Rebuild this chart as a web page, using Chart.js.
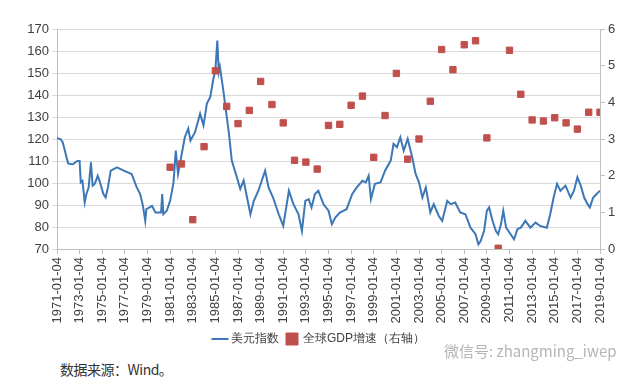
<!DOCTYPE html>
<html>
<head>
<meta charset="utf-8">
<script src="https://cdn.jsdelivr.net/npm/chart.js@4"></script>
<style>
  body { margin: 0; background: #fff; width: 640px; height: 385px; overflow: hidden; position: relative; }
  #wrap { position: absolute; left: 0; top: 0; width: 640px; height: 357px; }
  #source { position: absolute; left: 60px; top: 359px; font: 14px "Noto Sans CJK SC", sans-serif; color: #333; letter-spacing: -0.5px; }
  #mark { position: absolute; left: 444px; top: 340px; font: 15px "Noto Sans CJK SC", sans-serif; color: #b5b5b5; }
</style>
</head>
<body>
<div id="wrap"><canvas id="chart" width="640" height="357"></canvas></div>
<div id="source">数据来源：Wind。</div>
<div id="mark">微信号: zhangming_iwep</div>
<script>
// 美元指数
const dollarYears = [
  1971.0, 1971.3, 1971.5, 1971.7, 1971.9, 1972.0, 1972.4, 1972.8, 1973.0, 1973.1,
  1973.25, 1973.45, 1973.6, 1973.8, 1974.0, 1974.15, 1974.35, 1974.6, 1974.8, 1975.1,
  1975.3, 1975.5, 1975.75, 1976.3, 1976.9, 1977.6, 1978.05, 1978.35, 1978.6, 1978.8,
  1978.9, 1979.4, 1979.7, 1980.2, 1980.3, 1980.4, 1980.7, 1981.0, 1981.3, 1981.5,
  1981.7, 1982.0, 1982.3, 1982.6, 1982.8, 1983.2, 1983.65, 1983.95, 1984.25, 1984.55,
  1984.8, 1985.0, 1985.17, 1985.3, 1985.4, 1985.7, 1986.2, 1986.45, 1986.9, 1987.2,
  1987.5, 1987.8, 1988.1, 1988.4, 1988.8, 1989.4, 1989.7, 1990.1, 1990.6, 1991.0,
  1991.5, 1991.9, 1992.35, 1992.65, 1992.95, 1993.25, 1993.5, 1993.8, 1994.1, 1994.55,
  1995.0, 1995.3, 1995.6, 1996.0, 1996.6, 1997.1, 1997.5, 1998.0, 1998.3, 1998.55,
  1998.75, 1999.1, 1999.6, 2000.0, 2000.5, 2000.75, 2001.05, 2001.35, 2001.65, 2002.0,
  2002.4, 2002.7, 2003.0, 2003.3, 2003.6, 2004.0, 2004.3, 2004.75, 2005.05, 2005.5,
  2005.8, 2006.2, 2006.65, 2007.1, 2007.55, 2008.0, 2008.25, 2008.45, 2008.75, 2009.0,
  2009.2, 2009.5, 2009.8, 2010.0, 2010.25, 2010.45, 2010.7, 2011.1, 2011.4, 2011.7,
  2012.0, 2012.4, 2012.85, 2013.3, 2013.7, 2014.3, 2014.6, 2014.9, 2015.2, 2015.5,
  2015.95, 2016.4, 2016.7, 2017.0, 2017.3, 2017.6, 2017.9, 2018.1, 2018.4, 2018.7,
  2019.0
];
const dollarValues = [
  120.4, 120.0, 118.5, 114.7, 110.5, 108.8, 108.5, 110.0, 110.0, 100.3,
  101.0, 91.2, 95.0, 98.0, 109.4, 98.8, 99.7, 103.3, 100.3, 95.0,
  93.4, 98.0, 105.6, 107.1, 105.6, 104.1, 98.0, 95.0, 89.6, 82.8,
  88.1, 89.6, 86.6, 86.6, 95.0, 85.8, 87.4, 91.9, 100.3, 114.7,
  104.1, 112.5, 120.8, 124.7, 119.3, 123.1, 131.5, 126.2, 136.1, 139.1,
  146.7, 151.3, 164.7, 150.5, 152.8, 142.1, 122.4, 110.2, 102.6, 97.3,
  101.1, 93.4, 85.8, 91.9, 96.5, 105.6, 98.0, 93.4, 85.8, 80.5,
  96.5, 90.4, 85.8, 78.2, 91.9, 92.7, 88.9, 95.0, 96.5, 90.4,
  87.4, 81.3, 84.3, 86.6, 88.1, 95.0, 98.0, 101.0, 100.3, 103.3,
  92.7, 99.6, 100.3, 105.6, 110.2, 117.8, 116.3, 120.8, 114.7, 120.1,
  111.7, 104.1, 100.3, 93.4, 98.0, 86.6, 90.4, 85.0, 82.8, 91.9,
  90.4, 91.1, 86.6, 85.8, 79.7, 76.7, 72.1, 73.6, 78.2, 87.4,
  88.9, 82.8, 78.2, 76.7, 81.3, 87.4, 79.7, 76.7, 74.4, 79.0,
  79.7, 82.8, 79.7, 82.0, 80.5, 79.7, 85.8, 93.4, 99.6, 96.5,
  98.8, 93.4, 96.5, 102.6, 98.8, 93.4, 90.4, 88.9, 93.4, 95.0,
  96.5
];

// 全球GDP增速 (右轴)
const gdpYears = [
  1981, 1982, 1983, 1984, 1985, 1986, 1987, 1988, 1989, 1990,
  1991, 1992, 1993, 1994, 1995, 1996, 1997, 1998, 1999, 2000,
  2001, 2002, 2003, 2004, 2005, 2006, 2007, 2008, 2009, 2010,
  2011, 2012, 2013, 2014, 2015, 2016, 2017, 2018, 2019
];
const gdpValues = [
  2.23, 2.32, 0.80, 2.79, 4.86, 3.89, 3.42, 3.78, 4.57, 3.94,
  3.44, 2.42, 2.37, 2.18, 3.37, 3.40, 3.92, 4.17, 2.50, 3.64,
  4.79, 2.45, 3.00, 4.03, 5.44, 4.89, 5.57, 5.68, 3.03, 0.02,
  5.42, 4.22, 3.52, 3.49, 3.58, 3.44, 3.27, 3.73, 3.73
];

const leftTicks = { min: 70, max: 170, step: 10 };
const rightTicks = { min: 0, max: 6, step: 1 };
const xTicks = { min: 1971, max: 2019, step: 2 };

const axisColor = '#bfbfbf';
const textColor = '#404040';
const font = { family: 'Arial, "Liberation Sans", sans-serif', size: 13 };
const legendFont = { family: 'Arial, "Liberation Sans", sans-serif', size: 12 };

new Chart(document.getElementById('chart'), {
  data: {
    datasets: [
      {
        type: 'line',
        label: '美元指数',
        data: dollarYears.map((x, i) => ({ x, y: dollarValues[i] })),
        borderColor: '#3d77b6',
        backgroundColor: '#3d77b6',
        borderWidth: 2,
        pointRadius: 0,
        pointStyle: 'line',
        tension: 0,
        yAxisID: 'y',
        order: 2
      },
      {
        type: 'scatter',
        label: '全球GDP增速（右轴）',
        data: gdpYears.map((x, i) => ({ x, y: gdpValues[i] })),
        backgroundColor: '#c0504d',
        borderColor: '#c0504d',
        pointStyle: 'rect',
        pointRadius: 4.5,
        yAxisID: 'y1',
        order: 1
      }
    ]
  },
  options: {
    responsive: false,
    animation: false,
    devicePixelRatio: 1,
    layout: { padding: { top: 29, bottom: 2 } },
    plugins: {
      tooltip: { enabled: false },
      legend: {
        position: 'bottom',
        labels: {
          usePointStyle: true, font: legendFont, color: textColor, padding: 8, boxWidth: 10,
          sort: (a, b) => a.datasetIndex - b.datasetIndex
        }
      }
    },
    scales: {
      x: {
        type: 'linear',
        min: xTicks.min,
        max: xTicks.max,
        afterFit: s => { s.height = 76; },
        ticks: {
          stepSize: xTicks.step,
          autoSkip: false,
          minRotation: 90,
          maxRotation: 90,
          color: textColor,
          font: font,
          callback: v => v + '-01-04'
        },
        grid: { drawOnChartArea: false, color: axisColor, tickLength: 5 },
        border: { color: axisColor }
      },
      y: {
        position: 'left',
        min: leftTicks.min,
        max: leftTicks.max,
        afterFit: s => { s.width = 57; },
        ticks: { stepSize: leftTicks.step, color: textColor, font: font },
        grid: { color: '#d9d9d9', tickLength: 5 },
        border: { color: axisColor }
      },
      y1: {
        position: 'right',
        min: rightTicks.min,
        max: rightTicks.max,
        afterFit: s => { s.width = 40; },
        ticks: { stepSize: rightTicks.step, color: textColor, font: font },
        grid: { drawOnChartArea: false, color: axisColor, tickLength: 5 },
        border: { color: axisColor }
      }
    }
  }
});
</script>
</body>
</html>
